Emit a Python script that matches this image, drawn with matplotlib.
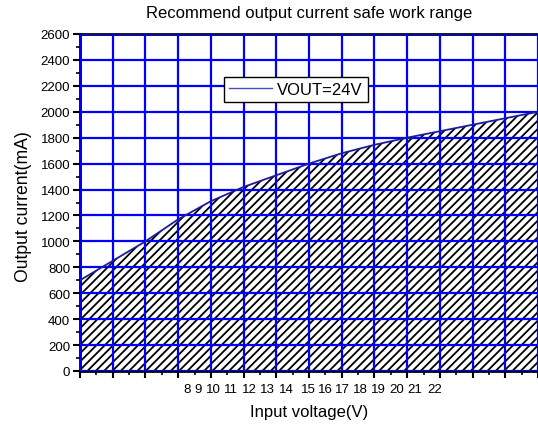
import numpy as np
import matplotlib
matplotlib.use("Agg")
import matplotlib.pyplot as plt
from matplotlib.ticker import MultipleLocator

plt.rcParams['font.family'] = ['Liberation Sans', 'DejaVu Sans']
plt.rcParams['hatch.linewidth'] = 1.3

# curve (x in grid units, 14 divisions)
grid_x = [0, 1, 2, 3, 4, 5, 6, 7, 8, 9, 10, 11, 12, 13, 14]
current_ma = [700, 850, 1000, 1170, 1310, 1420, 1510, 1600, 1680, 1745, 1800, 1850, 1900, 1950, 2000]

# the odd, crowded voltage labels under the axis
volt_labels = ['8', '9', '10', '11', '12', '13', '14', '15', '16', '17', '18', '19', '20', '21', '22']
volt_label_pos = [3.27, 3.61, 4.07, 4.62, 5.17, 5.72, 6.30, 6.97, 7.49, 8.01, 8.56, 9.11, 9.69, 10.24, 10.85]

legend_label = 'VOUT=24V'

fig = plt.figure(figsize=(5.38, 4.27), dpi=100)
ax = fig.add_axes([80/538, 55/427, 458/538, 337/427])

# hatched safe area
ax.fill_between(grid_x, 0, current_ma, facecolor='none', edgecolor='black',
                hatch='////', linewidth=0, zorder=1)
line, = ax.plot(grid_x, current_ma, color='#1c1c9c', linewidth=1.3, zorder=3)

ax.set_xlim(0, 14)
ax.set_ylim(0, 2600)

# grid on top of the hatch
ax.set_axisbelow(False)
ax.xaxis.set_major_locator(MultipleLocator(1))
ax.xaxis.set_minor_locator(MultipleLocator(0.5))
ax.yaxis.set_major_locator(MultipleLocator(200))
ax.yaxis.set_minor_locator(MultipleLocator(100))
ax.grid(True, which='major', color='#0000ff', linewidth=1.6)

ax.tick_params(axis='both', which='major', direction='out', length=5, width=1.5,
               labelsize=9.5, pad=2)
ax.tick_params(axis='both', which='minor', direction='out', length=3, width=1.2)
ax.tick_params(axis='x', which='both', labelbottom=False)

for s in ['left', 'bottom', 'top']:
    ax.spines[s].set_linewidth(2)
ax.spines['right'].set_visible(False)

# voltage labels on a separate axis so they sit where the original put them
sec = ax.secondary_xaxis('bottom')
sec.set_xticks(volt_label_pos, volt_labels)
sec.tick_params(length=0, labelsize=9.5, pad=9)
sec.spines['bottom'].set_visible(False)

ax.set_title('Recommend output current safe work range', fontsize=12, pad=12)
ax.set_xlabel('Input voltage(V)', fontsize=12)
ax.xaxis.set_label_coords(0.5, -0.097)
ax.set_ylabel('Output current(mA)', fontsize=12.7)
ax.yaxis.set_label_coords(-0.104, 0.49)

leg_line, = ax.plot([], [], color='#4848c8', linewidth=1.0)
leg = ax.legend([leg_line], [legend_label], loc='upper left',
                bbox_to_anchor=(0.314, 0.872), fontsize=12, frameon=True,
                fancybox=False, framealpha=1, edgecolor='black',
                handlelength=2.6, borderpad=0.3, handletextpad=0.3,
                borderaxespad=0)
leg.get_frame().set_linewidth(1.0)

fig.savefig('out.png', dpi=100)
